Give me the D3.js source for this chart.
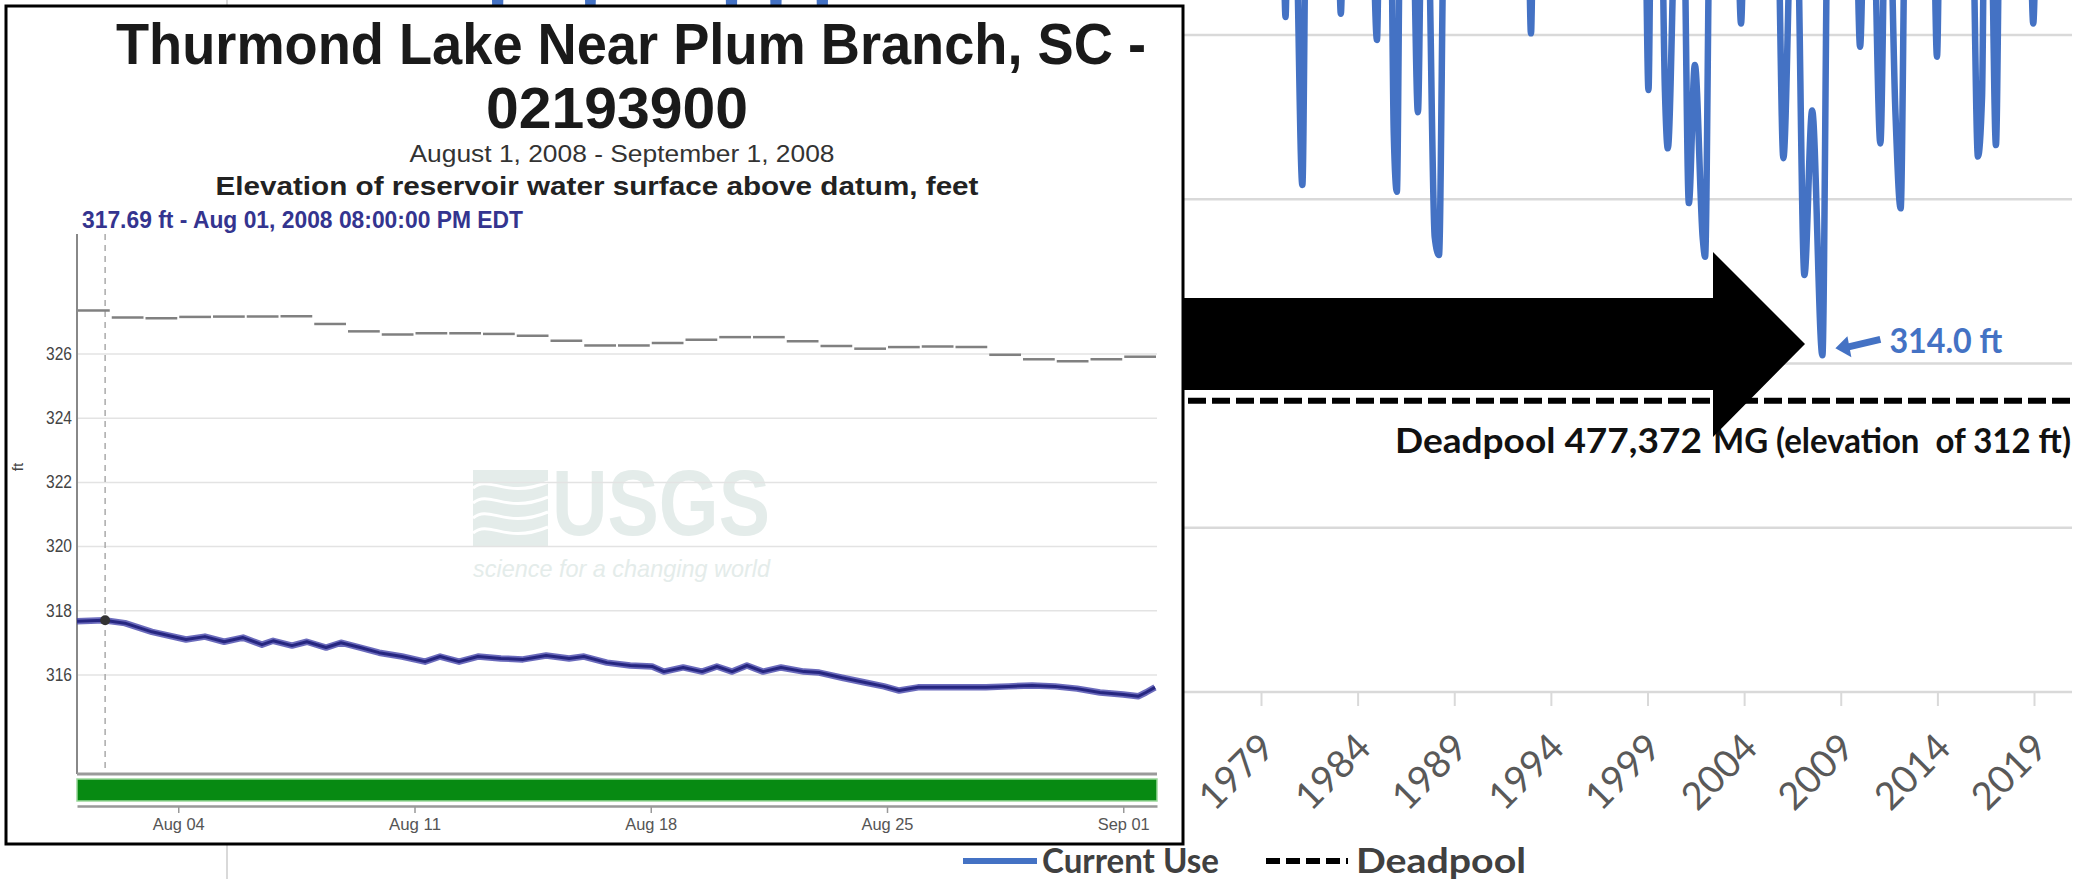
<!DOCTYPE html>
<html>
<head>
<meta charset="utf-8">
<script src="https://cdnjs.cloudflare.com/ajax/libs/d3/7.8.5/d3.min.js"></script>
<style>
  html, body { margin: 0; padding: 0; background: #fff; }
  svg { display: block; }
  text { white-space: pre; }
</style>
</head>
<body>
<div id="chart"></div>
<script>
// background chart: Thurmond storage (MG) by year, mostly above the visible area
var useYears = [1925, 1939.2, 1939.5, 1939.8, 1944.0, 1944.3, 1944.6,
  1951.3, 1951.6, 1951.9, 1953.6, 1953.9, 1954.2, 1956.0, 1956.3, 1956.6,
  1980.1, 1980.27, 1980.4, 1980.75, 1981.14, 1981.35, 1982.95, 1983.13, 1983.3,
  1984.7, 1985.0, 1985.15, 1985.7, 1985.87, 1986.03, 1986.22, 1986.82, 1987.12, 1987.33,
  1987.6, 1987.99, 1988.21, 1988.5, 1992.8, 1992.97, 1993.12,
  1998.85, 1999.05, 1999.2, 1999.7, 1999.9, 2000.05, 2000.5, 2000.85, 2001.14, 2001.45, 2001.86, 2001.98, 2002.25,
  2003.6, 2003.84, 2004.05, 2005.7, 2006.03, 2006.5, 2006.7, 2007.12, 2007.52, 2008.05, 2008.35,
  2009.75, 2010.0, 2010.25, 2010.65, 2011.05, 2011.33, 2011.5, 2011.82, 2012.1, 2012.36,
  2013.76, 2013.98, 2014.15, 2015.78, 2016.1, 2016.31, 2016.45, 2016.75, 2017.03, 2017.25,
  2018.74, 2018.96, 2019.18, 2021.5];
var useStorage = [790000, 790000, 680000, 790000, 790000, 690000, 790000,
  790000, 680000, 790000, 790000, 680000, 790000, 790000, 680000, 790000,
  790000, 711000, 790000, 790000, 608700, 790000, 790000, 713000, 790000,
  790000, 697000, 790000, 790000, 640000, 604600, 790000, 790000, 653000, 790000,
  790000, 577000, 566000, 790000, 790000, 701000, 790000,
  790000, 666500, 790000, 790000, 666500, 631000, 790000, 790000, 597700, 681700, 576000, 565000, 790000,
  790000, 707000, 790000, 790000, 625000, 790000, 790000, 553900, 654000, 505000, 790000,
  790000, 692900, 790000, 790000, 634000, 790000, 790000, 656000, 594500, 790000,
  790000, 686800, 790000, 790000, 626000, 662000, 790000, 790000, 633000, 790000,
  790000, 707000, 790000, 790000];
var yearTicks = [1979, 1984, 1989, 1994, 1999, 2004, 2009, 2014, 2019];
var storageGrid = [300000, 400000, 500000, 600000, 700000];
var deadpoolStorage = 477372;
var lowYear = 2008.05, lowStorage = 505000, lowLabel = "314.0 ft";

// inset: USGS 02193900, August 2008
var gageDates = ["2008-08-01","2008-08-02","2008-08-03","2008-08-04","2008-08-05","2008-08-06","2008-08-07","2008-08-08",
  "2008-08-09","2008-08-10","2008-08-11","2008-08-12","2008-08-13","2008-08-14","2008-08-15","2008-08-16",
  "2008-08-17","2008-08-18","2008-08-19","2008-08-20","2008-08-21","2008-08-22","2008-08-23","2008-08-24",
  "2008-08-25","2008-08-26","2008-08-27","2008-08-28","2008-08-29","2008-08-30","2008-08-31","2008-09-01"];
var gageFt = [327.34, 327.12, 327.10, 327.14, 327.15, 327.15, 327.16, 326.92,
  326.69, 326.59, 326.63, 326.63, 326.61, 326.55, 326.40, 326.25,
  326.25, 326.33, 326.43, 326.51, 326.51, 326.38, 326.23, 326.15,
  326.20, 326.22, 326.20, 325.96, 325.82, 325.76, 325.82, 325.90];
var elevDays = [0, 0.8, 1.42, 2.22, 3.23, 3.79, 4.36, 4.92, 5.48, 5.81, 6.37, 6.81, 7.38, 7.82, 8.39,
  8.95, 9.63, 10.31, 10.76, 11.32, 11.88, 12.56, 13.21, 13.9, 14.58, 15.02, 15.7, 16.39, 17.04, 17.39,
  17.96, 18.52, 18.96, 19.41, 19.85, 20.33, 20.86, 21.54, 21.99, 22.67, 23.35, 23.91, 24.36, 24.92, 25.6,
  26.28, 26.93, 27.61, 28.3, 28.98, 29.63, 30.31, 31.0, 31.44, 31.67, 31.94];
var elevFt = [317.66, 317.69, 317.6, 317.33, 317.09, 317.18, 317.02, 317.15, 316.93, 317.05, 316.9, 317.02, 316.84, 316.99, 316.84,
  316.68, 316.56, 316.40, 316.56, 316.40, 316.56, 316.5, 316.47, 316.59, 316.5, 316.56, 316.37, 316.28, 316.25, 316.09,
  316.22, 316.09, 316.25, 316.09, 316.28, 316.09, 316.22, 316.09, 316.06, 315.9, 315.75, 315.63, 315.5, 315.6, 315.6,
  315.6, 315.6, 315.63, 315.66, 315.63, 315.56, 315.44, 315.38, 315.32, 315.44, 315.6];
var elevTicks = [316, 318, 320, 322, 324, 326];
var dateTicks = ["2008-08-04", "2008-08-11", "2008-08-18", "2008-08-25", "2008-09-01"];
var hoverTime = "2008-08-01T20:00:00", hoverFt = 317.69;

var gothic = "Lato, 'Open Sans', sans-serif";
var arial = "'Liberation Sans', Arial, sans-serif";
var narrow = "'Liberation Sans Narrow', 'Liberation Sans', sans-serif";

var svg = d3.select("#chart").append("svg").attr("width", 2094).attr("height", 879);

function txt(g, str, x, y, size, weight, fill, anchor, len, family){
  var t = g.append("text")
    .attr("x", x).attr("y", y)
    .attr("text-anchor", anchor)
    .style("font-family", family)
    .style("font-size", size + "px")
    .style("font-weight", weight)
    .style("fill", fill)
    .text(str);
  if(len){
    t.attr("textLength", len).attr("lengthAdjust", "spacingAndGlyphs");
  }
  return t;
}

function drawHistory(){
  var g = svg.append("g");
  var x = d3.scaleLinear().domain([1979, 2019]).range([1261, 2034]);
  var y = d3.scaleLinear().domain([300000, 700000]).range([692, 35]);

  g.append("line").attr("x1", 227).attr("x2", 227).attr("y1", 0).attr("y2", 879)
    .style("stroke", "#d9d9d9").style("stroke-width", 2);

  g.selectAll(".grid").data(storageGrid).enter().append("line")
    .attr("x1", 228).attr("x2", 2072)
    .attr("y1", function(d){ return y(d); })
    .attr("y2", function(d){ return y(d); })
    .style("stroke", "#d9d9d9").style("stroke-width", 2.5);

  var xAxis = d3.axisBottom(x).tickValues(yearTicks).tickFormat(d3.format("d")).tickSize(14).tickSizeOuter(0);
  var ax = g.append("g").attr("transform", "translate(0," + y(300000) + ")").call(xAxis);
  ax.select(".domain").remove();
  ax.selectAll(".tick line").style("stroke", "#d9d9d9").style("stroke-width", 2);
  ax.selectAll(".tick text")
    .attr("x", 0).attr("y", 0).attr("dy", 0)
    .attr("text-anchor", "end")
    .attr("transform", "translate(15,58) rotate(-45)")
    .style("font-family", gothic).style("font-size", "38px").style("fill", "#595959");

  // deadpool
  g.append("line")
    .attr("x1", 228).attr("x2", 2072)
    .attr("y1", y(deadpoolStorage)).attr("y2", y(deadpoolStorage))
    .style("stroke", "#000").style("stroke-width", 6).style("stroke-dasharray", "18,6");
  var dp = g.append("text").attr("y", y(deadpoolStorage) + 52)
    .style("font-family", gothic).style("font-size", "35px").style("font-weight", 700).style("fill", "#111");
  dp.append("tspan").attr("x", 1395).attr("textLength", 316).attr("lengthAdjust", "spacingAndGlyphs")
    .text("Deadpool 477,372 ");
  dp.append("tspan").attr("x", 1713).attr("textLength", 358).attr("lengthAdjust", "spacingAndGlyphs")
    .text("MG (elevation  of 312 ft)");

  var line = d3.line()
    .x(function(d, i){ return x(useYears[i]); })
    .y(function(d){ return y(d); })
    .curve(d3.curveMonotoneX);
  g.append("path").datum(useStorage)
    .attr("d", line)
    .style("fill", "none").style("stroke", "#4472C4").style("stroke-width", 6.5)
    .style("stroke-linejoin", "round");

  // low point callout
  var px = x(lowYear), py = y(lowStorage);
  g.append("line")
    .attr("x1", px + 58).attr("y1", py - 16).attr("x2", px + 24).attr("y2", py - 8)
    .style("stroke", "#4472C4").style("stroke-width", 7);
  g.append("path")
    .attr("d", "M" + (px + 13) + "," + (py - 7) + " L" + (px + 25) + "," + (py - 19) + " L" + (px + 29) + "," + (py + 2) + " Z")
    .style("fill", "#4472C4");
  txt(g, lowLabel, px + 67, py - 2, 34, 700, "#4472C4", "start", 113, gothic);

  // legend
  var lg = svg.append("g");
  lg.append("line").attr("x1", 963).attr("x2", 1037).attr("y1", 861).attr("y2", 861)
    .style("stroke", "#4472C4").style("stroke-width", 6);
  txt(lg, "Current Use", 1042, 873, 34, 700, "#404040", "start", 177, gothic);
  lg.append("line").attr("x1", 1266).attr("x2", 1348).attr("y1", 861).attr("y2", 861)
    .style("stroke", "#000").style("stroke-width", 6).style("stroke-dasharray", "14,6");
  txt(lg, "Deadpool", 1356, 873, 34, 700, "#404040", "start", 170, gothic);
}

function drawArrow(){
  svg.append("path")
    .attr("d", "M1150,298 L1713,298 L1713,252 L1805,344 L1713,437 L1713,390 L1150,390 Z")
    .style("fill", "#000");
}

function drawInset(){
  var g = svg.append("g");
  g.append("rect").attr("x", 6).attr("y", 6).attr("width", 1177).attr("height", 838)
    .style("fill", "#fff").style("stroke", "#000").style("stroke-width", 3);

  txt(g, "Thurmond Lake Near Plum Branch, SC -", 631, 64, 57, 700, "#1a1a1a", "middle", 1030, arial);
  txt(g, "02193900", 617, 128, 57, 700, "#1a1a1a", "middle", 262, arial);
  txt(g, "August 1, 2008 - September 1, 2008", 622, 162, 24, 400, "#333", "middle", 425, arial);
  txt(g, "Elevation of reservoir water surface above datum, feet", 597, 195, 26, 700, "#222", "middle", 763, arial);
  txt(g, "317.69 ft - Aug 01, 2008 08:00:00 PM EDT", 82, 228, 23, 700, "#34348f", "start", 441, arial);

  var parse = d3.timeParse("%Y-%m-%d");
  var start = parse("2008-08-01");
  var x = d3.scaleTime().domain([start, parse("2008-09-02")]).range([77, 1157]);
  var y = d3.scaleLinear().domain([316, 326]).range([674.5, 353.5]);

  // USGS watermark
  var wm = g.append("g");
  wm.append("rect").attr("x", 473).attr("y", 470).attr("width", 75).attr("height", 76).style("fill", "#e4ecea");
  [488, 503, 518, 533].forEach(function(wy){
    wm.append("path")
      .attr("d", "M473," + wy + " C490," + (wy - 14) + " 505," + (wy + 12) + " 548," + (wy - 6))
      .style("fill", "none").style("stroke", "#fff").style("stroke-width", 3);
  });
  txt(wm, "USGS", 552, 535, 93, 700, "#e4ecea", "start", 218, narrow);
  txt(wm, "science for a changing world", 473, 577, 24, 400, "#e4ecea", "start", 297, narrow)
    .style("font-style", "italic");

  var yAxis = d3.axisLeft(y).tickValues(elevTicks).tickSize(-1080).tickPadding(5);
  var ay = g.append("g").attr("transform", "translate(77,0)").call(yAxis);
  ay.select(".domain").remove();
  ay.selectAll(".tick line").style("stroke", "#e3e3e3").style("stroke-width", 1.5);
  ay.selectAll(".tick text")
    .attr("textLength", 26).attr("lengthAdjust", "spacingAndGlyphs")
    .style("font-family", narrow).style("font-size", "18px").style("fill", "#444");

  g.append("line").attr("x1", 77).attr("x2", 77).attr("y1", 234).attr("y2", 774)
    .style("stroke", "#888").style("stroke-width", 2);
  txt(g, "ft", 0, 0, 15, 400, "#444", "middle", null, narrow)
    .attr("transform", "translate(23,467) rotate(-90)");

  var ht = d3.timeParse("%Y-%m-%dT%H:%M:%S")(hoverTime);
  g.append("line").attr("x1", x(ht)).attr("x2", x(ht)).attr("y1", 234).attr("y2", 774)
    .style("stroke", "#aaa").style("stroke-width", 1.5).style("stroke-dasharray", "6,5");

  // daily gray steps
  g.selectAll(".step").data(gageFt).enter().append("line")
    .attr("x1", function(d, i){ return x(parse(gageDates[i])) + 1; })
    .attr("x2", function(d, i){ return x(d3.timeDay.offset(parse(gageDates[i]), 1)) - 1; })
    .attr("y1", function(d){ return y(d); })
    .attr("y2", function(d){ return y(d); })
    .style("stroke", "#808080").style("stroke-width", 2.5);

  var line = d3.line()
    .x(function(d, i){ return x(new Date(start.getTime() + elevDays[i] * 86400000)); })
    .y(function(d){ return y(d); });
  g.append("path").datum(elevFt).attr("d", line)
    .style("fill", "none").style("stroke", "#3a3aa5").style("stroke-width", 6.5).style("stroke-opacity", 0.75)
    .style("stroke-linejoin", "round");
  g.append("path").datum(elevFt).attr("d", line)
    .style("fill", "none").style("stroke", "#262680").style("stroke-width", 3)
    .style("stroke-linejoin", "round");
  g.append("circle").attr("cx", x(ht)).attr("cy", y(hoverFt)).attr("r", 5).style("fill", "#333");

  // bottom frame, approval band, date axis
  g.append("line").attr("x1", 77).attr("x2", 1157).attr("y1", 774).attr("y2", 774)
    .style("stroke", "#9a9a9a").style("stroke-width", 3);
  g.append("rect").attr("x", 77).attr("y", 779).attr("width", 1080).attr("height", 22)
    .style("fill", "#078a12").style("stroke", "#9bd89b").style("stroke-width", 1.5);

  var xAxis = d3.axisBottom(x).tickValues(dateTicks.map(parse)).tickFormat(d3.timeFormat("%b %d"))
    .tickSize(7).tickSizeOuter(0);
  var ax = g.append("g").attr("transform", "translate(0,806)").call(xAxis);
  ax.select(".domain").style("stroke", "#999").style("stroke-width", 2.5);
  ax.selectAll(".tick line").style("stroke", "#999").style("stroke-width", 1.5);
  ax.selectAll(".tick text")
    .attr("y", 12)
    .attr("textLength", 52).attr("lengthAdjust", "spacingAndGlyphs")
    .style("font-family", narrow).style("font-size", "17px").style("fill", "#555");
}

drawHistory();
drawArrow();
drawInset();
</script>
</body>
</html>
